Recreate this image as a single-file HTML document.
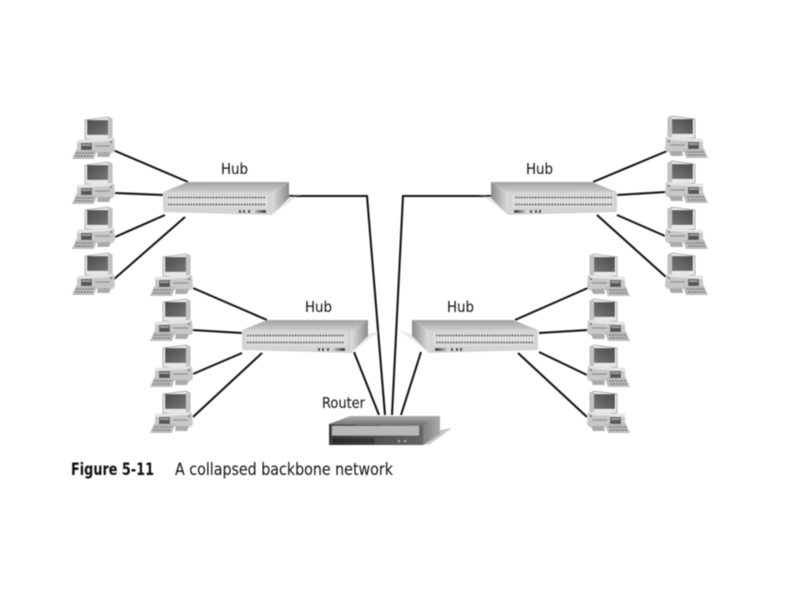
<!DOCTYPE html>
<html><head><meta charset="utf-8"><style>
html,body{margin:0;padding:0;background:#fff}
svg{display:block}
text{font-family:"DejaVu Sans","Liberation Sans",sans-serif;fill:#111}
</style></head><body>
<svg width="792" height="612" viewBox="0 0 792 612" xmlns="http://www.w3.org/2000/svg">
<defs>
<linearGradient id="top" x1="0" y1="0" x2="0" y2="1"><stop offset="0" stop-color="#a2a2a2"/><stop offset="1" stop-color="#cfcfcf"/></linearGradient>
<linearGradient id="side" x1="0" y1="0" x2="1" y2="0"><stop offset="0" stop-color="#dedede"/><stop offset="1" stop-color="#8a8a8a"/></linearGradient>
<linearGradient id="led" x1="0" y1="0" x2="1" y2="0"><stop offset="0" stop-color="#bbb"/><stop offset="1" stop-color="#222"/></linearGradient>
<linearGradient id="rtop" x1="0" y1="0" x2="0" y2="1"><stop offset="0" stop-color="#b0b0b0"/><stop offset="1" stop-color="#6a6a6a"/></linearGradient>
<linearGradient id="rside" x1="0" y1="0" x2="1" y2="0"><stop offset="0" stop-color="#808080"/><stop offset="1" stop-color="#ababab"/></linearGradient>
<linearGradient id="rfront" x1="0" y1="0" x2="1" y2="0"><stop offset="0" stop-color="#3a3a3a"/><stop offset="1" stop-color="#666"/></linearGradient>
<linearGradient id="scr" x1="0" y1="0" x2="1" y2="1"><stop offset="0" stop-color="#4c4c4c"/><stop offset="1" stop-color="#767676"/></linearGradient>
<filter id="b" x="-5%" y="-5%" width="110%" height="110%"><feGaussianBlur stdDeviation="0.5"/></filter>

<g id="hub">
<polygon points="0,10 25,0 126,0 109,11" fill="url(#top)"/>
<polygon points="0,10 109,11 109,33 0,30" fill="#d3d3d3"/>
<polygon points="109,11 126,0 126,16 109,33" fill="url(#side)"/>
<rect x="4" y="13" width="101" height="13" fill="#dcdcdc"/>
<line x1="5" y1="15.5" x2="103" y2="15.5" stroke="#4a4a4a" stroke-width="1.8" stroke-dasharray="1.7 1.1"/>
<line x1="5" y1="22.5" x2="103" y2="22.5" stroke="#4a4a4a" stroke-width="1.8" stroke-dasharray="1.7 1.1"/>
<rect x="76" y="28" width="2" height="3" fill="#222"/>
<rect x="80" y="28" width="2" height="3" fill="#222"/>
<rect x="85" y="28" width="2" height="3" fill="#222"/>
<rect x="92" y="28" width="11" height="3" fill="url(#led)"/>
</g>

<g id="pc">
<polygon points="13,3 36,0 40,2 40,20 34,23 13,22" fill="#e8e8e8" stroke="#9a9a9a" stroke-width="0.8"/>
<polygon points="36,0 40,2 40,20 36,22" fill="#c2c2c2"/>
<rect x="15" y="3" width="21" height="15" fill="url(#scr)"/>
<polygon points="19,22 36,22 36,24 19,24" fill="#aaa"/>
<polygon points="5,23 42,21 43,33 41,36 3,36 5,31" fill="#c8c8c8"/>
<polygon points="5,23 42,21 38,24 5,26" fill="#e4e4e4"/>
<rect x="9" y="26" width="11" height="7" fill="#555"/>
<rect x="10" y="27" width="9" height="2" fill="#999"/>
<line x1="23" y1="29" x2="38" y2="29" stroke="#8a8a8a" stroke-width="1.2"/>
<rect x="38" y="24" width="2" height="2" fill="#777"/>
<polygon points="4,33 25,33 22,42 0,42" fill="#bcbcbc"/>
<line x1="4" y1="36" x2="21" y2="36" stroke="#666" stroke-width="1.2" stroke-dasharray="2 1"/>
<line x1="3" y1="39" x2="20" y2="39" stroke="#666" stroke-width="1.2" stroke-dasharray="2 1"/>
<polygon points="26,35 39,35 37,40 25,40" fill="#aaa"/>
</g>
</defs>

<g filter="url(#b)">
<!-- hub shadows -->
<g fill="#e9e9e9">
<polygon points="289,196 302,193 274,213 272,215"/>
<polygon points="491,196 478,193 506,213 508,215"/>
<polygon points="368,334 380,331 353,351 351,353"/>
<polygon points="412,334 400,331 427,351 429,353"/>
</g>

<!-- connectors -->
<g stroke="#0c0c0c" stroke-width="2" fill="none">
<path d="M113 150L188 182M115 193L163 195M115 237L165 215M113 280L185 217"/>
<path d="M593 182L667 151M617 195L666 192M617 215L665 236M597 215L666 277"/>
<path d="M193 288L267 320M192 330L242 333M193 374L242 353M193 417L262 353"/>
<path d="M515 320L590 287M539 333L588 330M539 352L587 375M518 353L587 417"/>
<path d="M285 196H367L385 415"/>
<path d="M495 196H403L392 415"/>
<path d="M354 352L379 415"/>
<path d="M421 352L401 415"/>
</g>

<!-- hubs -->
<use href="#hub" transform="translate(163,182)"/>
<use href="#hub" transform="translate(617,182) scale(-1,1)"/>
<use href="#hub" transform="translate(242,320)"/>
<use href="#hub" transform="translate(538,320) scale(-1,1)"/>

<!-- computers -->
<use href="#pc" transform="translate(72,117)"/>
<use href="#pc" transform="translate(72,162)"/>
<use href="#pc" transform="translate(72,207)"/>
<use href="#pc" transform="translate(72,253)"/>
<use href="#pc" transform="translate(150,254)"/>
<use href="#pc" transform="translate(150,299)"/>
<use href="#pc" transform="translate(150,345)"/>
<use href="#pc" transform="translate(150,391)"/>
<use href="#pc" transform="translate(708,116) scale(-1,1)"/>
<use href="#pc" transform="translate(708,161) scale(-1,1)"/>
<use href="#pc" transform="translate(708,207) scale(-1,1)"/>
<use href="#pc" transform="translate(708,253) scale(-1,1)"/>
<use href="#pc" transform="translate(630,254) scale(-1,1)"/>
<use href="#pc" transform="translate(630,299) scale(-1,1)"/>
<use href="#pc" transform="translate(630,345) scale(-1,1)"/>
<use href="#pc" transform="translate(630,391) scale(-1,1)"/>

<!-- router -->
<polygon points="440,430 452,428 430,444 423,445" fill="#c4c4c4"/>
<polygon points="329,424 350,416 440,416 423,426" fill="url(#rtop)"/>
<polygon points="329,424 423,426 423,445 329,445" fill="url(#rfront)"/>
<polygon points="423,426 440,416 440,434 423,445" fill="url(#rside)"/>
<rect x="332" y="426" width="87" height="9.5" fill="#b8b8b8"/>
<line x1="333" y1="441" x2="375" y2="441" stroke="#111" stroke-width="6" stroke-dasharray="1 1"/>
<rect x="398" y="440" width="2" height="2" fill="#aaa"/>
<rect x="404" y="440" width="2" height="2" fill="#aaa"/>

<!-- labels -->
<text x="221" y="174" font-size="15" textLength="27" lengthAdjust="spacingAndGlyphs">Hub</text>
<text x="526" y="174" font-size="15" textLength="27" lengthAdjust="spacingAndGlyphs">Hub</text>
<text x="305" y="312" font-size="15" textLength="27" lengthAdjust="spacingAndGlyphs">Hub</text>
<text x="447" y="312" font-size="15" textLength="27" lengthAdjust="spacingAndGlyphs">Hub</text>
<text x="322" y="408" font-size="15" textLength="43" lengthAdjust="spacingAndGlyphs">Router</text>
<text x="71" y="475" font-size="17" font-weight="700" textLength="83" lengthAdjust="spacingAndGlyphs">Figure 5-11</text>
<text x="175" y="475" font-size="17" textLength="218" lengthAdjust="spacingAndGlyphs">A collapsed backbone network</text>
</g>
</svg>
</body></html>
